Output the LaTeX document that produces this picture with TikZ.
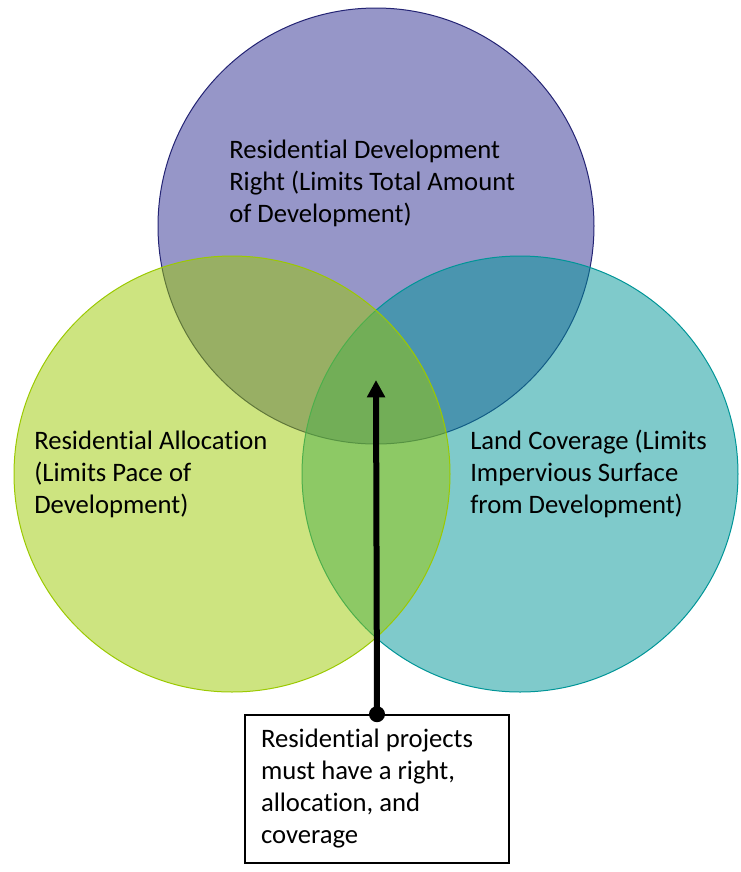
\documentclass[tikz,border=0pt]{standalone}
\usepackage{fontspec}
\setmainfont[Ligatures={NoCommon,NoRare,NoContextual}]{Carlito}
\usetikzlibrary{arrows.meta}
\definecolor{vennpurple}{RGB}{45,45,145}
\definecolor{venngreen}{RGB}{155,201,1}
\definecolor{vennteal}{RGB}{0,149,151}
\begin{document}
\begin{tikzpicture}[x=0.75pt,y=-0.75pt,
    venn/.style={fill opacity=0.5, line width=0.75pt},
    lbl/.style={anchor=base west, align=left, inner sep=0pt, font=\fontsize{20}{24}\selectfont},
    notebox/.style={draw, line width=1.2pt, fill=white, minimum width=198pt, minimum height=111pt,
      text width=174pt, inner xsep=12pt, align=flush left, font=\fontsize{20}{24}\selectfont}]
  \useasboundingbox (0,0) rectangle (740,872);
  \draw[venn, fill=vennpurple, draw=vennpurple!80!black] (376,226) circle[radius=163.5pt];
  \draw[venn, fill=vennteal, draw=vennteal] (520,474) circle[radius=163.5pt];
  \draw[venn, fill=venngreen, draw=venngreen] (232,474) circle[radius=163.5pt];
  \node[lbl] (right) at (229,222) {Residential Development\\Right (Limits Total Amount\\of Development)};
  \node[lbl] (alloc) at (34,513) {Residential Allocation\\(Limits Pace of\\Development)};
  \node[lbl] (cover) at (470,513) {Land Coverage (Limits\\Impervious Surface\\from Development)};
  \node[notebox] (note) at (377,789) {Residential projects\\must have a right,\\allocation, and\\coverage};
  \coordinate (tip) at (376,380);
  \draw[line width=4.5pt, -{Triangle[width=13pt,length=13pt]}] (note.north) -- (tip);
  \fill (note.north) circle[radius=6pt];
\end{tikzpicture}
\end{document}
